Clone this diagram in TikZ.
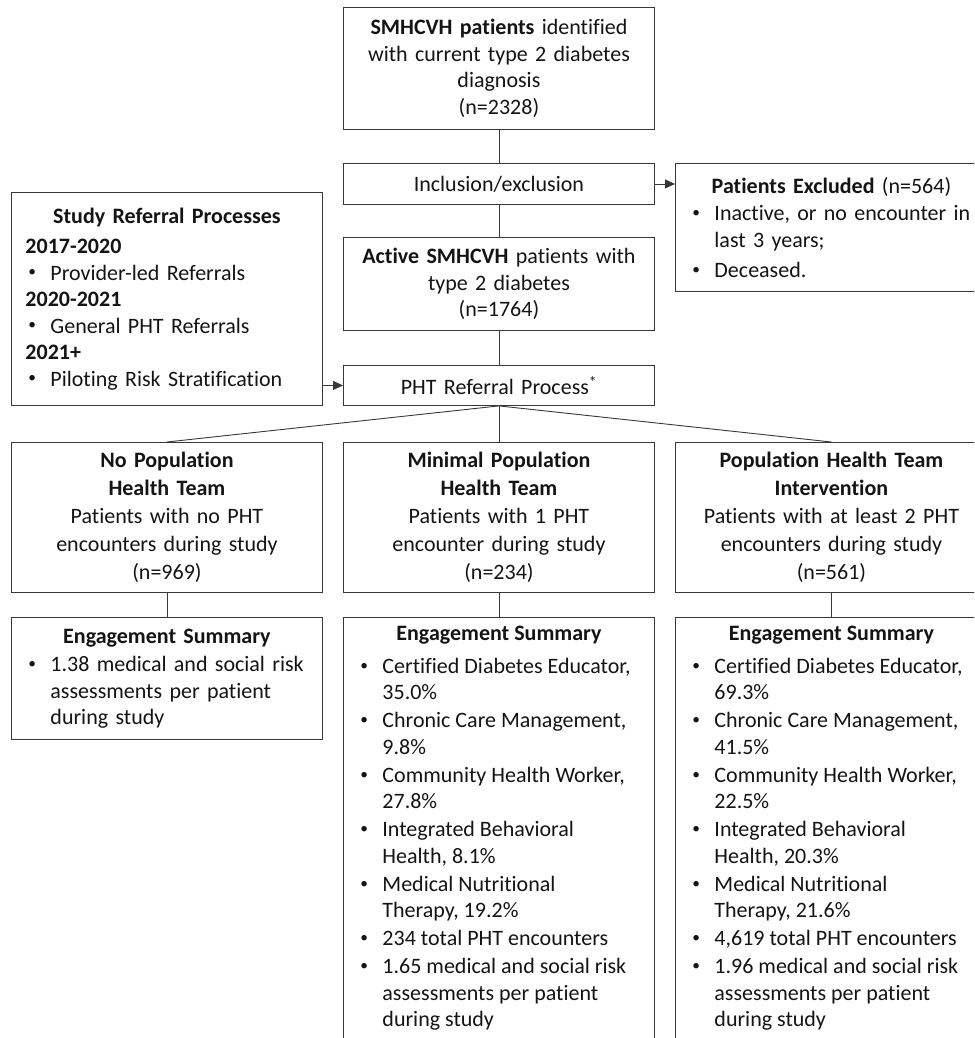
\documentclass[tikz,border=0pt]{standalone}
\usepackage{fontspec}
\usepackage{graphicx}
\setmainfont{Carlito}[Ligatures=NoCommon]
\usetikzlibrary{arrows.meta}
\setlength\parindent{0pt}
\newcommand\bulmark{\hspace*{3pt}\raisebox{0.15em}{\scalebox{0.7}{\textbullet}}}
\newcommand\bul[1]{\par\hangindent=25pt\hangafter=1\noindent\makebox[25pt][l]{\bulmark}#1\par}
\tikzset{
  box/.style={draw=black!78, line width=0.9pt, inner xsep=14pt, inner ysep=0pt,
    text width=283pt, anchor=north west, text=black!92,
    font=\fontsize{22}{26.5}\selectfont},
  conn/.style={draw=black!78, line width=0.9pt},
  arr/.style={conn, -{Triangle[length=10pt,width=9pt]}}
}
\begin{document}
\begin{tikzpicture}[x=1pt,y=-1pt]
\useasboundingbox (0,0) rectangle (974,1038);
\clip (0,0) rectangle (974,1038);

\node[box, minimum height=122pt, align=center] (top) at (343,7)
  {\textbf{SMHCVH patients} identified\\with current type 2 diabetes\\diagnosis\\(n=2328)};
\node[box, minimum height=41pt, align=center] (incl) at (343,163) {Inclusion/exclusion};
\node[box, minimum height=93pt, align=center] (act) at (343,237)
  {\textbf{Active SMHCVH} patients with\\type 2 diabetes\\(n=1764)};
\node[box, minimum height=40pt, align=center] (pht) at (343,365) {PHT Referral Process\textsuperscript{*}};

\node[box, minimum height=128pt, text width=284pt, align=left] (excl) at (675,163)
  {{\centering\textbf{Patients Excluded} (n=564)\par}\vspace{1pt}
   \bul{Inactive, or no encounter in\newline last 3 years;}\vspace{4pt}
   \bul{Deceased.}};

\node[box, minimum height=213pt, align=left] (study) at (11,192)
  {{\centering\textbf{Study Referral Processes}\par}\vspace{4pt}
   \textbf{2017-2020}\par
   \bul{Provider-led Referrals}
   \textbf{2020-2021}\par
   \bul{General PHT Referrals}
   \textbf{2021+}\par
   \bul{Piloting Risk Stratification}};

\node[box, minimum height=150pt, align=center, font=\fontsize{22}{28}\selectfont] (g1) at (11,442)
  {\textbf{No Population}\\\textbf{Health Team}\\Patients with no PHT\\encounters during study\\(n=969)};
\node[box, minimum height=150pt, align=center, font=\fontsize{22}{28}\selectfont] (g2) at (343,442)
  {\textbf{Minimal Population}\\\textbf{Health Team}\\Patients with 1 PHT\\encounter during study\\(n=234)};
\node[box, minimum height=150pt, text width=284pt, align=center, font=\fontsize{22}{28}\selectfont] (g3) at (675,442)
  {\textbf{Population Health Team}\\\textbf{Intervention}\\Patients with at least 2 PHT\\encounters during study\\(n=561)};

\node[box, minimum height=122pt, align=left] (e1) at (11,617)
  {{\centering\textbf{Engagement Summary}\par}\vspace{2pt}
   \bul{1.38 medical and social risk\newline assessments per patient\newline during study}};

\node[box, text width=, align=left] (e2) at (343,617)
  {\parbox[t][450pt][t]{283pt}{\vspace*{9pt}
   {\centering\textbf{Engagement Summary}\par}\vspace{6pt}
   \bul{Certified Diabetes Educator,\newline 35.0\%}\vspace{1.5pt}
   \bul{Chronic Care Management,\newline 9.8\%}\vspace{1.5pt}
   \bul{Community Health Worker,\newline 27.8\%}\vspace{1.5pt}
   \bul{Integrated Behavioral\newline Health, 8.1\%}\vspace{1.5pt}
   \bul{Medical Nutritional\newline Therapy, 19.2\%}\vspace{1.5pt}
   \bul{234 total PHT encounters}\vspace{1.5pt}
   \bul{1.65 medical and social risk\newline assessments per patient\newline during study}\vfill}};

\node[box, text width=, align=left] (e3) at (675,617)
  {\parbox[t][450pt][t]{284pt}{\vspace*{9pt}
   {\centering\textbf{Engagement Summary}\par}\vspace{6pt}
   \bul{Certified Diabetes Educator,\newline 69.3\%}\vspace{1.5pt}
   \bul{Chronic Care Management,\newline 41.5\%}\vspace{1.5pt}
   \bul{Community Health Worker,\newline 22.5\%}\vspace{1.5pt}
   \bul{Integrated Behavioral\newline Health, 20.3\%}\vspace{1.5pt}
   \bul{Medical Nutritional\newline Therapy, 21.6\%}\vspace{1.5pt}
   \bul{4,619 total PHT encounters}\vspace{1.5pt}
   \bul{1.96 medical and social risk\newline assessments per patient\newline during study}\vfill}};

\draw[conn] (top) -- (incl);
\draw[conn] (incl) -- (act);
\draw[conn] (act) -- (pht);
\draw[arr] (incl.east) -- (incl.east -| excl.west);
\draw[arr] (study.east |- pht.west) -- (pht.west);
\draw[conn] (pht.south) -- (g1.north);
\draw[conn] (pht.south) -- (g2.north);
\draw[conn] (pht.south) -- (g3.north);
\draw[conn] (g1) -- (e1);
\draw[conn] (g2) -- (e2);
\draw[conn] (g3) -- (e3);
\end{tikzpicture}
\end{document}
